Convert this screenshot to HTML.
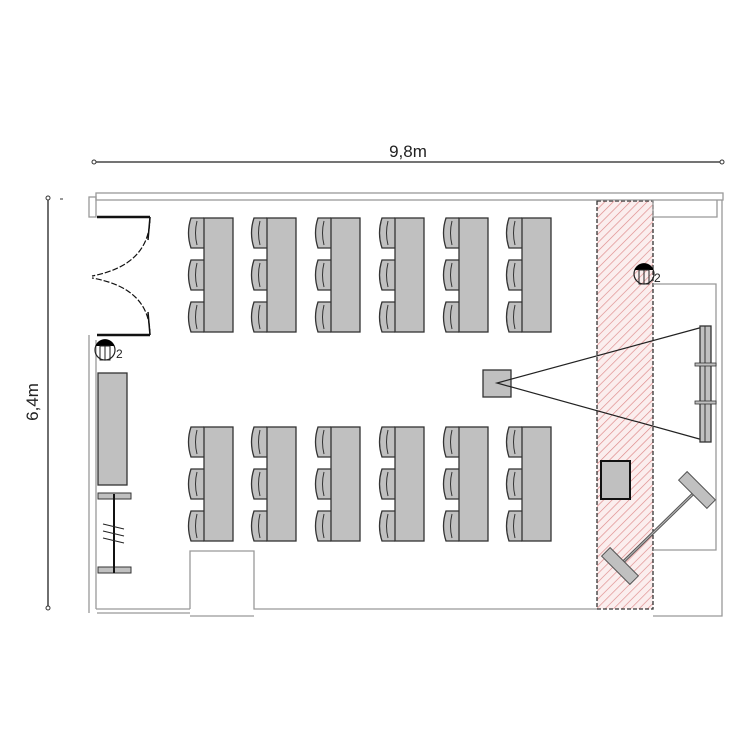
<!DOCTYPE html>
<html><head><meta charset="utf-8"><style>html,body{margin:0;padding:0;background:#fff}svg{display:block}</style></head><body>
<svg width="750" height="750" viewBox="0 0 750 750" xmlns="http://www.w3.org/2000/svg" font-family="Liberation Sans, sans-serif">
<defs>
<pattern id="h" patternUnits="userSpaceOnUse" width="6" height="6" patternTransform="rotate(45)">
<rect width="6" height="6" fill="#fbeeee"/><line x1="0" y1="0" x2="0" y2="6" stroke="#d88" stroke-width="1.3"/>
</pattern>
<g id="chair">
<path d="M18,0 L5,0 Q0,15 5,30 L18,30" fill="#c0c0c0" stroke="#333" stroke-width="1.3"/>
<path d="M11,3 Q8,15 11,27" fill="none" stroke="#333" stroke-width="1"/>
</g>
<g id="desk">
<use href="#chair" x="0" y="0"/><use href="#chair" x="0" y="42"/><use href="#chair" x="0" y="84"/>
<rect x="18" y="0" width="29" height="114" fill="#c0c0c0" stroke="#333" stroke-width="1.3"/>
</g>
<g id="lamp">
<circle cx="0" cy="0" r="10" fill="none" stroke="#222" stroke-width="1.2"/>
<path d="M-9.5,-4 A10,10 0 0 1 9.5,-4 Z" fill="#000"/>
<rect x="-5" y="-4" width="10" height="14" fill="none" stroke="#222"/>
<line x1="0" y1="-4" x2="0" y2="10" stroke="#222"/>
</g>
</defs>
<!-- dimensions -->
<line x1="93" y1="162" x2="722" y2="162" stroke="#222" stroke-width="1.3"/>
<circle cx="94" cy="162" r="2" fill="#fff" stroke="#333"/>
<circle cx="722" cy="162" r="2" fill="#fff" stroke="#333"/>
<text x="408" y="157" font-size="17" text-anchor="middle" fill="#222">9,8m</text>
<line x1="48" y1="198" x2="48" y2="608" stroke="#222" stroke-width="1.3"/>
<circle cx="48" cy="198" r="2" fill="#fff" stroke="#333"/>
<circle cx="48" cy="608" r="2" fill="#fff" stroke="#333"/>
<line x1="60" y1="199" x2="63" y2="199" stroke="#333"/>
<text transform="translate(38,402) rotate(-90)" font-size="17" text-anchor="middle" fill="#222">6,4m</text>
<!-- hatched zone -->
<rect x="597" y="201" width="56" height="408" fill="url(#h)" stroke="#333" stroke-width="1.3" stroke-dasharray="4,2"/>
<!-- walls -->
<g fill="none" stroke="#999" stroke-width="1.3">
<rect x="96" y="193" width="627" height="7"/>
<rect x="89" y="197" width="7" height="20"/>
<line x1="89" y1="335" x2="89" y2="613"/>
<line x1="96" y1="340" x2="96" y2="609"/>
<line x1="96" y1="609" x2="190" y2="609"/>
<line x1="97" y1="613" x2="190" y2="613"/>
<polyline points="190,609 190,551 254,551 254,609 597,609"/>
<line x1="190" y1="616" x2="254" y2="616"/>
<polyline points="653,200 653,217 717,217 717,200"/>
<polyline points="653,284 716,284 716,550 653,550"/>
<polyline points="653,616 722,616 722,200"/>
</g>
<!-- door -->
<g stroke="#111" fill="none">
<line x1="97" y1="217" x2="150" y2="217" stroke-width="2.5"/>
<line x1="97" y1="335" x2="150" y2="335" stroke-width="2.5"/>
<path d="M150,217 Q150,265 92,276" stroke-dasharray="6,2" stroke-width="1.2"/>
<path d="M150,335 Q150,288 92,278" stroke-dasharray="6,2" stroke-width="1.2"/>
<line x1="150" y1="217" x2="148" y2="240" stroke-width="1.5"/>
<line x1="150" y1="335" x2="148" y2="312" stroke-width="1.5"/>
</g>
<!-- desks -->
<use href="#desk" x="186" y="218"/><use href="#desk" x="249" y="218"/><use href="#desk" x="313" y="218"/>
<use href="#desk" x="377" y="218"/><use href="#desk" x="441" y="218"/><use href="#desk" x="504" y="218"/>
<use href="#desk" x="186" y="427"/><use href="#desk" x="249" y="427"/><use href="#desk" x="313" y="427"/>
<use href="#desk" x="377" y="427"/><use href="#desk" x="441" y="427"/><use href="#desk" x="504" y="427"/>
<!-- lamps -->
<use href="#lamp" x="105" y="350"/>
<text x="116" y="358" font-size="12" fill="#222">2</text>
<use href="#lamp" x="644" y="274"/>
<text x="654" y="282" font-size="12" fill="#222">2</text>
<!-- left screen and stand -->
<rect x="98" y="373" width="29" height="112" fill="#c0c0c0" stroke="#333" stroke-width="1.3"/>
<rect x="98" y="493" width="33" height="6" fill="#c0c0c0" stroke="#333"/>
<rect x="98" y="567" width="33" height="6" fill="#c0c0c0" stroke="#333"/>
<line x1="114" y1="494" x2="114" y2="573" stroke="#111" stroke-width="2"/>
<g stroke="#222" stroke-width="1"><line x1="103" y1="524" x2="124" y2="529"/><line x1="103" y1="531" x2="124" y2="536"/><line x1="103" y1="538" x2="124" y2="543"/></g>
<!-- projector -->
<rect x="483" y="370" width="28" height="27" fill="#c0c0c0" stroke="#333" stroke-width="1.3"/>
<polyline points="703,327 497,383 703,440" fill="none" stroke="#222" stroke-width="1.2"/>
<rect x="700" y="326" width="11" height="116" fill="#c0c0c0" stroke="#333" stroke-width="1.3"/>
<line x1="705" y1="326" x2="705" y2="442" stroke="#333"/>
<rect x="695" y="363" width="21" height="3" fill="#c0c0c0" stroke="#333" stroke-width="0.8"/>
<rect x="695" y="401" width="21" height="3" fill="#c0c0c0" stroke="#333" stroke-width="0.8"/>
<!-- table box -->
<rect x="601" y="461" width="29" height="38" fill="#c0c0c0" stroke="#111" stroke-width="2"/>
<!-- easel -->
<line x1="619" y1="566" x2="696" y2="491" stroke="#555" stroke-width="3"/>
<line x1="619" y1="566" x2="696" y2="491" stroke="#bbb" stroke-width="1"/>
<rect x="-6" y="-20" width="12" height="40" fill="#c0c0c0" stroke="#555" transform="translate(620,566) rotate(-45)"/>
<rect x="-6" y="-20" width="12" height="40" fill="#c0c0c0" stroke="#555" transform="translate(697,490) rotate(-45)"/>
</svg>
</body></html>
